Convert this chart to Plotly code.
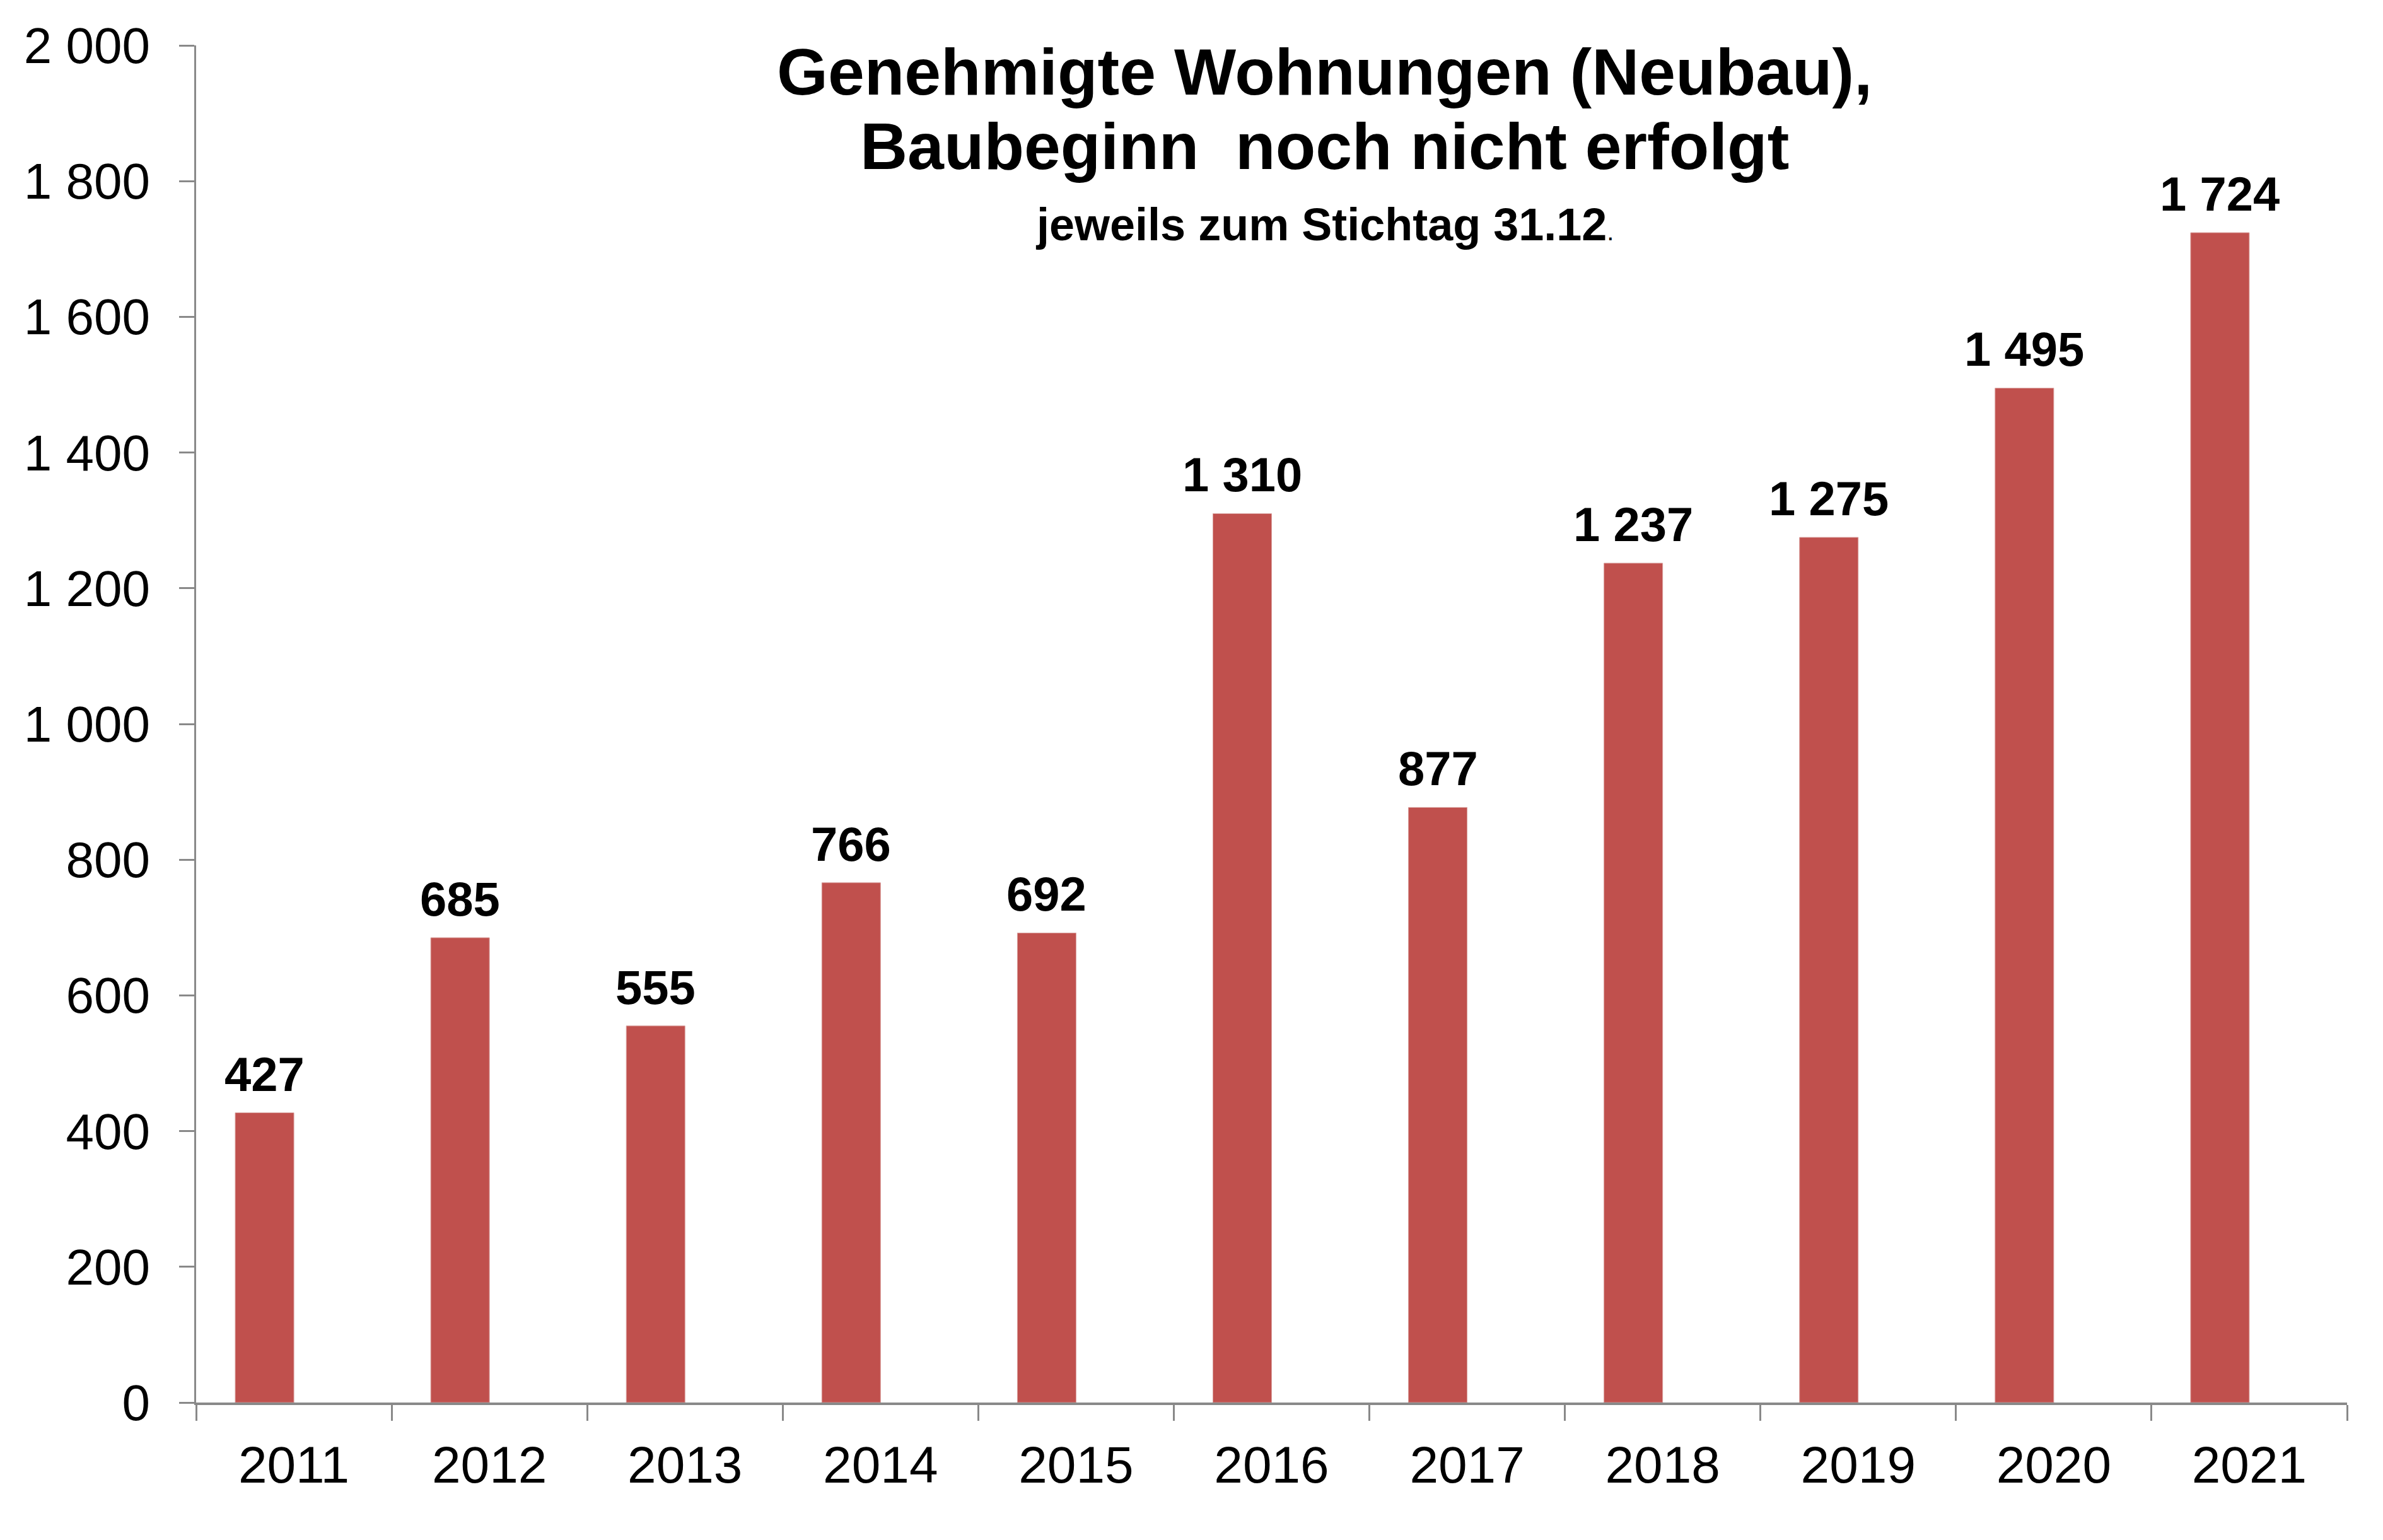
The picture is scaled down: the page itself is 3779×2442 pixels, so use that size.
import plotly.graph_objects as go

# Daten: genehmigte Wohnungen (Neubau), Baubeginn noch nicht erfolgt, jeweils 31.12.
jahre = ["2011", "2012", "2013", "2014", "2015", "2016", "2017", "2018", "2019", "2020", "2021"]
wohnungen = [427, 685, 555, 766, 692, 1310, 877, 1237, 1275, 1495, 1724]
y_ticks = [0, 200, 400, 600, 800, 1000, 1200, 1400, 1600, 1800, 2000]

BAR = "#C0504D"
AXIS = "#898989"
FONT = "Liberation Sans, Arial, sans-serif"

W, H = 3779, 2442
M_L, M_R, M_T, M_B = 311, 57, 72, 218
PLOT_W = W - M_L - M_R
PLOT_H = H - M_T - M_B
CAT_PX = PLOT_W / len(jahre)


def paper_y(px):
    # Pixel von oben -> paper-Koordinate
    return 1 - (px - M_T) / PLOT_H


fig = go.Figure()

# Balken sitzen wie in Excel links von der Kategoriemitte (zweite Reihe fehlt)
fig.add_trace(
    go.Bar(
        x=jahre, y=wohnungen,
        width=0.3, offset=-0.3,
        marker=dict(color=BAR, line=dict(width=1, color="#D9A09E")),
        hovertemplate="%{x}: %{y:,}<extra></extra>",
    )
)

# Datenbeschriftungen über den Balken (x = Kategorie-Index, sonst liest plotly "2011" als Index)
for i, v in enumerate(wohnungen):
    fig.add_annotation(
        x=i, y=v, text=f"<b>{v:,}</b>".replace(",", " "),
        xshift=-0.15 * CAT_PX, yshift=17,
        xanchor="center", yanchor="bottom", showarrow=False,
        font=dict(family=FONT, size=76, color="black"),
    )

# --- Titel ---
title_x = (2100 - M_L) / PLOT_W
fig.add_annotation(
    text="<b>Genehmigte Wohnungen (Neubau),</b>", xref="paper", yref="paper",
    x=title_x, y=paper_y(114), xanchor="center", yanchor="middle", showarrow=False,
    font=dict(family=FONT, size=104, color="black"),
)
fig.add_annotation(
    text="<b>Baubeginn  noch nicht erfolgt</b>", xref="paper", yref="paper",
    x=title_x, y=paper_y(232), xanchor="center", yanchor="middle", showarrow=False,
    font=dict(family=FONT, size=104, color="black"),
)
fig.add_annotation(
    text="<b>jeweils zum Stichtag 31.12</b><span style='font-size:40px'>.</span>",
    xref="paper", yref="paper",
    x=title_x, y=paper_y(356), xanchor="center", yanchor="middle", showarrow=False,
    font=dict(family=FONT, size=72, color="black"),
)

# --- Layout ---
fig.update_layout(
    width=W, height=H,
    paper_bgcolor="white", plot_bgcolor="white",
    font=dict(family=FONT, color="black"),
    separators=", ",
    margin=dict(l=M_L, r=M_R, t=M_T, b=M_B),
    showlegend=False,
)

fig.update_xaxes(
    type="category",
    range=[-0.5, len(jahre) - 0.5],
    showline=True, linecolor=AXIS, linewidth=4,
    ticks="outside", tickson="boundaries", ticklen=25, tickwidth=3, tickcolor=AXIS,
    tickfont=dict(family=FONT, size=82, color="black"),
    ticklabelstandoff=25,
    showgrid=False, zeroline=False,
)
fig.update_yaxes(
    range=[0, 2000],
    tickvals=y_ticks,
    tickformat=",",
    showline=True, linecolor=AXIS, linewidth=3,
    ticks="outside", ticklen=24, tickwidth=3, tickcolor=AXIS,
    tickfont=dict(family=FONT, size=80, color="black"),
    ticklabelstandoff=30,
    showgrid=False, zeroline=False,
)

fig.write_html(
    "out.html",
    config={"displayModeBar": False},
    post_script="document.body.style.margin='0';",
)
